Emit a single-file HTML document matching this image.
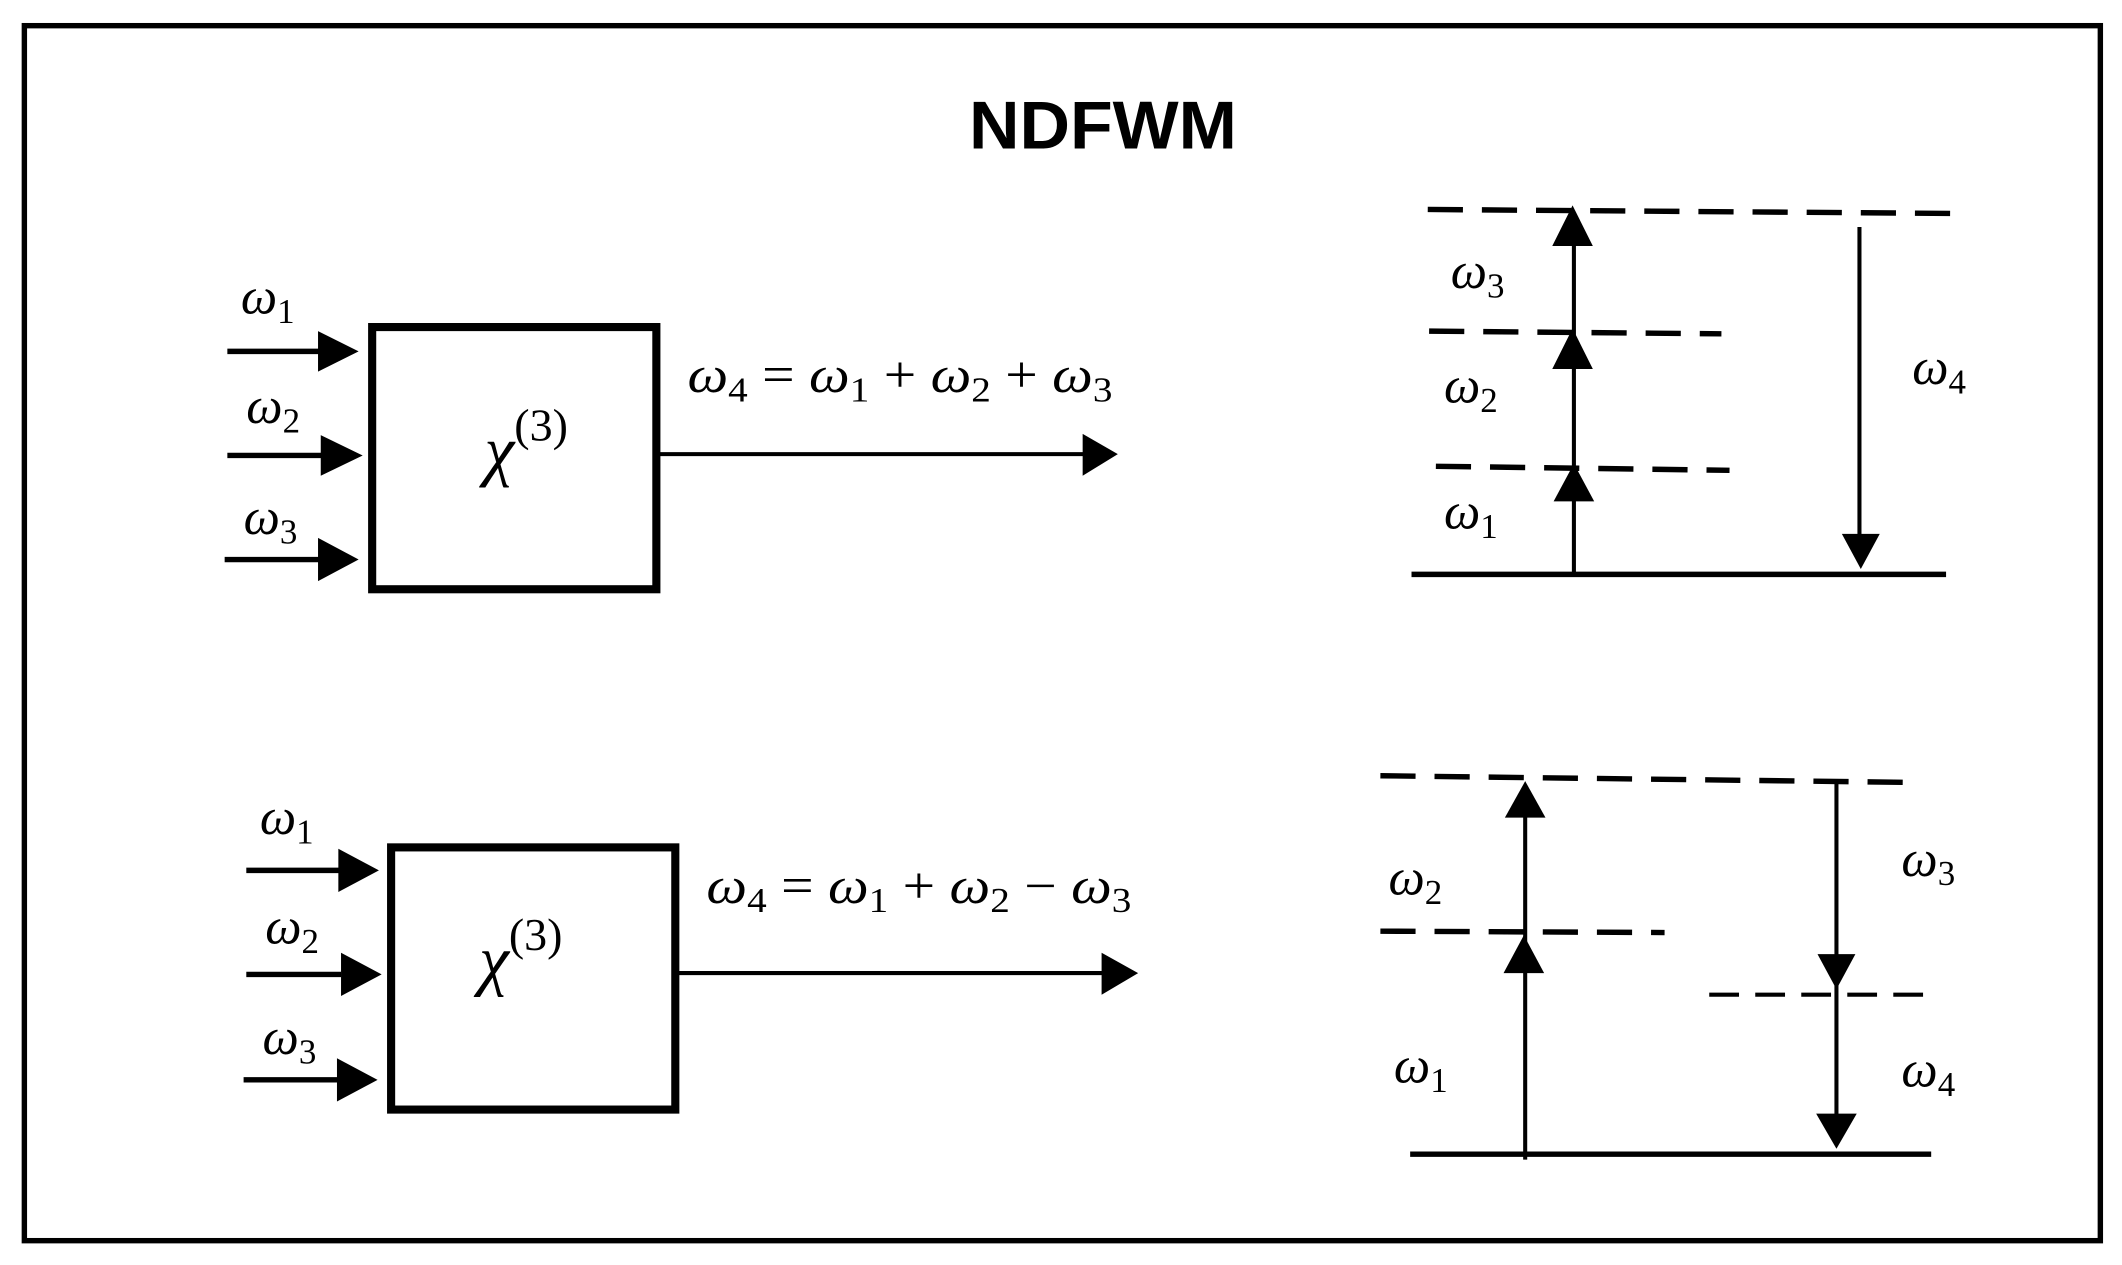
<!DOCTYPE html>
<html><head><style>html,body{margin:0;padding:0;background:#fff}svg{display:block}
text{font-family:"Liberation Serif",serif;font-style:italic;fill:#000}
.s{font-size:0.68em;font-style:normal}</style></head>
<body>
<svg width="2122" height="1265" viewBox="0 0 1568 936" preserveAspectRatio="none" xmlns="http://www.w3.org/2000/svg">
<rect x="18" y="19" width="1534" height="899" fill="none" stroke="#000" stroke-width="4"/>
<text x="815" y="110" text-anchor="middle" textLength="198" lengthAdjust="spacingAndGlyphs" style="font-family:'Liberation Sans',sans-serif;font-style:normal;font-weight:bold;font-size:50px">NDFWM</text>

<g stroke="#000" fill="none">
<rect x="275" y="242" width="210" height="194" stroke-width="6"/>
<line x1="168" y1="260" x2="236" y2="260" stroke-width="4"/>
<line x1="168" y1="337" x2="238" y2="337" stroke-width="4"/>
<line x1="166" y1="414" x2="236" y2="414" stroke-width="4"/>
<line x1="487" y1="336" x2="802" y2="336" stroke-width="3"/>
<rect x="289" y="627" width="210" height="194" stroke-width="6"/>
<line x1="182" y1="644" x2="252" y2="644" stroke-width="4"/>
<line x1="182" y1="721" x2="252" y2="721" stroke-width="4"/>
<line x1="180" y1="799" x2="250" y2="799" stroke-width="4"/>
<line x1="500" y1="720" x2="816" y2="720" stroke-width="3"/>

<line x1="1043" y1="425" x2="1438" y2="425" stroke-width="4"/>
<line x1="1055" y1="155" x2="1452" y2="158" stroke-width="4" stroke-dasharray="26,14"/>
<line x1="1056" y1="245" x2="1272" y2="247" stroke-width="4" stroke-dasharray="26,14"/>
<line x1="1061" y1="345" x2="1278" y2="348" stroke-width="4" stroke-dasharray="26,14"/>
<line x1="1163" y1="425" x2="1163" y2="170" stroke-width="3"/>
<line x1="1374" y1="168" x2="1374" y2="400" stroke-width="3"/>

<line x1="1042" y1="854" x2="1427" y2="854" stroke-width="4"/>
<line x1="1020" y1="574" x2="1418" y2="579" stroke-width="4" stroke-dasharray="26,14"/>
<line x1="1020" y1="689" x2="1230" y2="690" stroke-width="4" stroke-dasharray="26,14"/>
<line x1="1263" y1="736" x2="1427" y2="736" stroke-width="3" stroke-dasharray="22,12"/>
<line x1="1127" y1="858" x2="1127" y2="595" stroke-width="3"/>
<line x1="1357" y1="578" x2="1357" y2="830" stroke-width="3"/>
</g>
<g fill="#000">
<polygon points="235,245 265,260 235,275"/>
<polygon points="237,322 268,337 237,352"/>
<polygon points="235,398 265,414 235,430"/>
<polygon points="800,321 826,336 800,352"/>
<polygon points="250,628 280,644 250,660"/>
<polygon points="252,705 282,721 252,737"/>
<polygon points="249,783 279,799 249,815"/>
<polygon points="814,705 841,720 814,736"/>

<polygon points="1162,152 1147,182 1177,182"/>
<polygon points="1162,243 1147,273 1177,273"/>
<polygon points="1163,343 1148,371 1178,371"/>
<polygon points="1361,395 1389,395 1375,421"/>

<polygon points="1127,578 1112,605 1142,605"/>
<polygon points="1126,692 1111,720 1141,720"/>
<polygon points="1343,706 1371,706 1357,732"/>
<polygon points="1342,824 1372,824 1357,850"/>
</g>

<g font-size="38">
<text x="178" y="232">ω<tspan class="s" dy="7">1</tspan></text>
<text x="182" y="313">ω<tspan class="s" dy="7">2</tspan></text>
<text x="180" y="395">ω<tspan class="s" dy="7">3</tspan></text>
<text x="192" y="617">ω<tspan class="s" dy="7">1</tspan></text>
<text x="196" y="698">ω<tspan class="s" dy="7">2</tspan></text>
<text x="194" y="780">ω<tspan class="s" dy="7">3</tspan></text>

<text x="1072" y="213">ω<tspan class="s" dy="7">3</tspan></text>
<text x="1067" y="298">ω<tspan class="s" dy="7">2</tspan></text>
<text x="1067" y="391">ω<tspan class="s" dy="7">1</tspan></text>
<text x="1413" y="284">ω<tspan class="s" dy="7">4</tspan></text>
<text x="1026" y="662">ω<tspan class="s" dy="7">2</tspan></text>
<text x="1030" y="801">ω<tspan class="s" dy="7">1</tspan></text>
<text x="1405" y="648">ω<tspan class="s" dy="7">3</tspan></text>
<text x="1405" y="804">ω<tspan class="s" dy="7">4</tspan></text>
</g>
<g font-size="38">
<text x="508" y="290" textLength="314" lengthAdjust="spacingAndGlyphs">ω<tspan class="s" dy="7">4</tspan><tspan dy="-7" style="font-style:normal"> = </tspan>ω<tspan class="s" dy="7">1</tspan><tspan dy="-7" style="font-style:normal"> + </tspan>ω<tspan class="s" dy="7">2</tspan><tspan dy="-7" style="font-style:normal"> + </tspan>ω<tspan class="s" dy="7">3</tspan></text>
<text x="522" y="668" textLength="314" lengthAdjust="spacingAndGlyphs">ω<tspan class="s" dy="7">4</tspan><tspan dy="-7" style="font-style:normal"> = </tspan>ω<tspan class="s" dy="7">1</tspan><tspan dy="-7" style="font-style:normal"> + </tspan>ω<tspan class="s" dy="7">2</tspan><tspan dy="-7" style="font-style:normal"> − </tspan>ω<tspan class="s" dy="7">3</tspan></text>
</g>
<text x="358" y="350" font-size="50">χ<tspan dy="-24" font-size="34" style="font-style:normal">(3)</tspan></text>
<text x="354" y="727" font-size="50">χ<tspan dy="-24" font-size="34" style="font-style:normal">(3)</tspan></text>
</svg>
</body></html>
